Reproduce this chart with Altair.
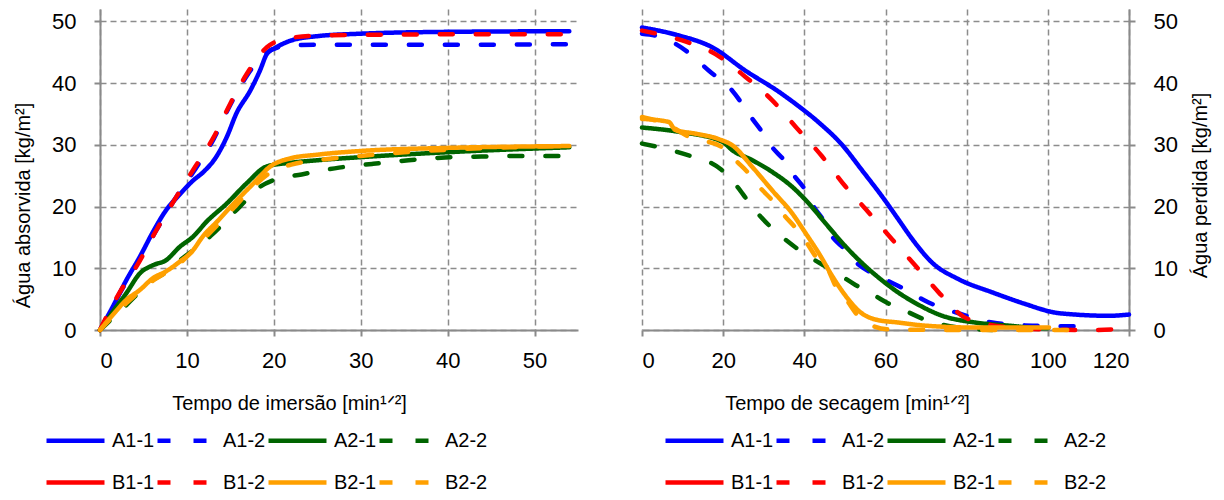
import altair as alt
import pandas as pd

FONT = "Liberation Sans, Arial"

SERIES = ["A1-1", "A1-2", "A2-1", "A2-2", "B1-1", "B1-2", "B2-1", "B2-2"]
COLORS = ["#0000ff", "#0000ff", "#006400", "#006400", "#ff0000", "#ff0000", "#ffa000", "#ffa000"]
DASHES = [[1, 0], [13, 23], [1, 0], [13, 23], [1, 0], [13, 23], [1, 0], [13, 23]]

# ---- Immersion (left panel) ----
imm_A1_1_t = [0, 1.5, 3, 4.6, 6.1, 7.6, 9.2, 10.7, 11.9, 13.4, 14.6, 15.7, 17.3, 18.4, 19.2, 20.3, 22, 25, 30, 40, 54]
imm_A1_1_v = [0, 3.85, 8.0, 11.9, 15.9, 19.4, 22.0, 24.2, 25.6, 28.1, 31.3, 35.1, 38.8, 42.0, 44.7, 45.8, 46.9, 47.6, 48.0, 48.3, 48.4]
imm_A1_2_t = [0, 2.7, 4.2, 6.5, 8.8, 10.7, 13.1, 15, 16.9, 18.8, 20.5, 22, 25, 30, 40, 54]
imm_A1_2_v = [0, 7.0, 10.5, 16.2, 21.6, 25.5, 31.0, 36.5, 41.2, 44.5, 45.8, 46.1, 46.2, 46.2, 46.2, 46.3]
imm_A2_1_t = [0, 1.5, 3.05, 4.6, 6.1, 7.6, 9.2, 10.7, 12.3, 14.6, 16.9, 19.2, 22, 25, 30, 40, 54]
imm_A2_1_v = [0, 3.0, 6.0, 9.2, 10.5, 11.3, 13.5, 15.1, 17.6, 20.5, 23.8, 26.5, 27.1, 27.5, 28.0, 28.8, 29.6]
imm_A2_2_t = [0, 3, 6.1, 7.4, 9.2, 10.7, 12.7, 16.1, 18.4, 20, 23.2, 27.5, 31.3, 35.5, 39.7, 43.9, 47.7, 53.2]
imm_A2_2_v = [0, 4.0, 8.1, 9.2, 11.3, 12.9, 15.2, 20.0, 23.2, 24.3, 25.2, 26.3, 26.9, 27.5, 27.95, 28.1, 28.2, 28.2]
imm_B1_1_t = []
imm_B1_1_v = []
imm_B1_2_t = [0, 0.8, 2.7, 4.2, 6.5, 8.8, 10.7, 13.1, 15, 16.9, 19.2, 21.5, 25, 30, 40, 55]
imm_B1_2_v = [0, 2.3, 7.1, 10.3, 16.2, 21.6, 25.9, 31.3, 36.7, 41.5, 45.8, 47.2, 47.7, 47.8, 47.9, 47.9]
imm_B2_1_t = [0, 1.5, 3.05, 4.6, 6.1, 7.6, 9.2, 10.7, 11.8, 13.5, 15.4, 17.7, 19.6, 21.9, 25, 30, 40, 54]
imm_B2_1_v = [0, 2.5, 4.9, 6.5, 8.4, 9.5, 11.1, 12.9, 15.1, 17.6, 20.5, 23.8, 26.5, 27.8, 28.4, 29.0, 29.5, 29.8]
imm_B2_2_t = [0, 3, 6, 9, 12, 15.4, 17.7, 19.6, 22, 25, 30, 35, 40, 45, 54]
imm_B2_2_v = [0, 4.3, 7.9, 10.6, 14.8, 19.8, 23.3, 25.5, 26.8, 27.5, 28.2, 28.8, 29.2, 29.5, 29.8]

# ---- Drying (right panel) ----
dry_A1_1_t = [0, 9.1, 17.3, 25.5, 33.7, 37.9, 43.6, 49.3, 54.3, 59.2, 63.3, 66.5, 71.5, 78.1, 86.3, 94.5, 101.1, 106.8, 115, 120]
dry_A1_1_v = [49.0, 47.7, 45.8, 42.0, 38.6, 36.6, 33.6, 30.0, 25.8, 21.6, 17.8, 14.8, 10.9, 8.2, 6.1, 4.2, 2.9, 2.5, 2.3, 2.5]
dry_A1_2_t = [0, 4.9, 10.7, 16.5, 22.2, 27.2, 29.7, 32.1, 35, 37.5, 40.3, 42.4, 44.4, 46.9, 49.8, 53, 56.7, 60.8, 63.3, 70.5, 78.5, 86.3, 96.2, 104.4, 106.8]
dry_A1_2_v = [48.0, 47.4, 45.3, 42.0, 38.8, 34.2, 32.0, 29.6, 27.5, 25.0, 22.6, 19.9, 18.1, 15.1, 13.2, 10.8, 9.2, 7.9, 7.1, 4.5, 2.6, 1.2, 0.7, 0.6, 0.6]
dry_A2_1_t = [0, 9.1, 19.8, 22.3, 27.2, 32.1, 37, 41.1, 45.2, 50.2, 55.1, 60, 63.3, 67, 74, 82.2, 90.4, 98.6, 100]
dry_A2_1_v = [32.8, 32.1, 30.5, 29.1, 27.5, 25.6, 23.2, 20.5, 17.3, 13.5, 10.3, 7.6, 6.0, 4.5, 2.3, 1.2, 0.7, 0.3, 0.3]
dry_A2_2_t = [0, 9.9, 19.5, 23.5, 26, 28.9, 31.7, 35.4, 41.1, 45.2, 48.5, 52.6, 56.3, 60.4, 63.3, 70, 78, 88, 90]
dry_A2_2_v = [30.2, 28.6, 26.0, 23.2, 21.0, 18.6, 16.7, 14.6, 11.9, 10.3, 9.0, 7.3, 6.0, 4.4, 3.6, 1.6, 0.4, 0.0, 0.0]
dry_B1_1_t = []
dry_B1_1_v = []
dry_B1_2_t = [0, 9.9, 18.1, 25.5, 32.1, 37.9, 44.4, 50.2, 55.1, 61.6, 67.4, 73.1, 78.9, 84.7, 92.9, 100, 110, 120]
dry_B1_2_v = [48.5, 46.9, 44.7, 41.0, 37.2, 32.9, 28.1, 23.2, 19.6, 14.7, 10.4, 6.1, 2.3, 1.0, 0.3, 0.1, 0.0, 0.2]
dry_B2_1_t = [0, 6.6, 8.2, 13.2, 19, 22.3, 27.2, 32.1, 37, 40.3, 43.6, 46.9, 50.2, 53.4, 57.5, 63.3, 69.9, 82.2, 100.3]
dry_B2_1_v = [34.2, 33.7, 32.4, 31.8, 30.9, 29.9, 26.4, 22.6, 18.9, 15.7, 12.4, 8.7, 5.5, 3.1, 1.7, 1.2, 0.7, 0.4, 0.4]
dry_B2_2_t = [0, 7.4, 11.5, 19.5, 23.5, 26.4, 29.3, 32.1, 35, 37.9, 40.7, 42.8, 45.7, 47.7, 50.6, 52.6, 57.1, 60.8, 80, 105]
dry_B2_2_v = [34.5, 32.9, 31.3, 29.7, 27.2, 25.3, 22.9, 21.0, 18.6, 16.5, 14.0, 11.9, 10.0, 7.1, 4.7, 2.8, 0.6, 0.1, 0.0, 0.0]

X_TICKS_IMM = [0, 10, 20, 30, 40, 50]
X_TICKS_DRY = [0, 20, 40, 60, 80, 100, 120]
Y_TICKS = [0, 10, 20, 30, 40, 50]


def build(pairs):
    rows = []
    for name, (ts, vs) in zip(SERIES, pairs):
        for i, (t, v) in enumerate(zip(ts, vs)):
            rows.append({"series": name, "t": t, "v": v, "i": i})
    return pd.DataFrame(rows)


imm_df = build([
    (imm_A1_1_t, imm_A1_1_v), (imm_A1_2_t, imm_A1_2_v), (imm_A2_1_t, imm_A2_1_v), (imm_A2_2_t, imm_A2_2_v),
    (imm_B1_1_t, imm_B1_1_v), (imm_B1_2_t, imm_B1_2_v), (imm_B2_1_t, imm_B2_1_v), (imm_B2_2_t, imm_B2_2_v),
])
dry_df = build([
    (dry_A1_1_t, dry_A1_1_v), (dry_A1_2_t, dry_A1_2_v), (dry_A2_1_t, dry_A2_1_v), (dry_A2_2_t, dry_A2_2_v),
    (dry_B1_1_t, dry_B1_1_v), (dry_B1_2_t, dry_B1_2_v), (dry_B2_1_t, dry_B2_1_v), (dry_B2_2_t, dry_B2_2_v),
])

W1, W2, H = 478, 487, 321
LEG_Y = 400


def legend(x):
    return alt.Legend(
        orient="none", legendX=x, legendY=LEG_Y, columns=4, direction="horizontal",
        title=None, symbolType="stroke", symbolSize=3364, symbolStrokeWidth=4.5,
        labelFont=FONT, labelFontSize=20, labelColor="#000000", labelOffset=5,
        columnPadding=-7, rowPadding=-13, labelLimit=200, padding=0,
    )


def panel(df, xdom, xticks, xtitle, ytitle, yorient, w, leg_x, xtx, ytx, yty, yangle):
    color = alt.Color("series:N", scale=alt.Scale(domain=SERIES, range=COLORS), legend=legend(leg_x))
    dash = alt.StrokeDash("series:N", scale=alt.Scale(domain=SERIES, range=DASHES), legend=legend(leg_x))
    return alt.Chart(df).mark_line(strokeWidth=4.5, strokeCap="round", interpolate="monotone").encode(
        x=alt.X("t:Q", scale=alt.Scale(domain=xdom, nice=False, zero=False),
                axis=alt.Axis(values=xticks, title=xtitle, titleX=xtx, titleY=73, labelPadding=14,
                              titleBaseline="middle", titleAlign="center")),
        y=alt.Y("v:Q", scale=alt.Scale(domain=[0, 52], nice=False),
                axis=alt.Axis(values=Y_TICKS, orient=yorient, title=ytitle, titleX=ytx, titleY=yty,
                              titleAngle=yangle, titleBaseline="middle", titleAlign="center")),
        color=color,
        strokeDash=dash,
        order="i:Q",
    ).properties(width=w, height=H)


left = panel(imm_df, [0, 55], X_TICKS_IMM, "Tempo de imersão [min¹ᐟ²]", "Água absorvida [kg/m²]",
             "left", W1, -56, 189, -77, 196, 270)
right = panel(dry_df, [0, 120], X_TICKS_DRY, "Tempo de secagem [min¹ᐟ²]", "Água perdida [kg/m²]",
              "right", W2, 21, 205, 71, 176, 270)

chart = alt.HConcatChart(hconcat=[left, right], spacing=64, bounds="flush").resolve_scale(
    color="independent", strokeDash="independent", x="independent", y="independent"
).resolve_legend(color="independent", strokeDash="independent").properties(
    padding={"left": 13, "top": 9, "right": 10, "bottom": 0},
).configure_view(stroke=None).configure_axis(
    labelFont=FONT, labelFontSize=22, labelColor="#000000", labelPadding=12,
    titleFont=FONT, titleFontSize=20, titleFontWeight="normal", titleColor="#000000",
    domainColor="#8a8a8a", domainWidth=2, tickColor="#8a8a8a", tickWidth=2, tickSize=6,
    gridColor="#8c8c8c", gridDash=[6, 4], gridWidth=1.5,
).configure_axisY(labelPadding=18)

chart.save("out.html", embed_options={"renderer": "svg", "actions": False})
